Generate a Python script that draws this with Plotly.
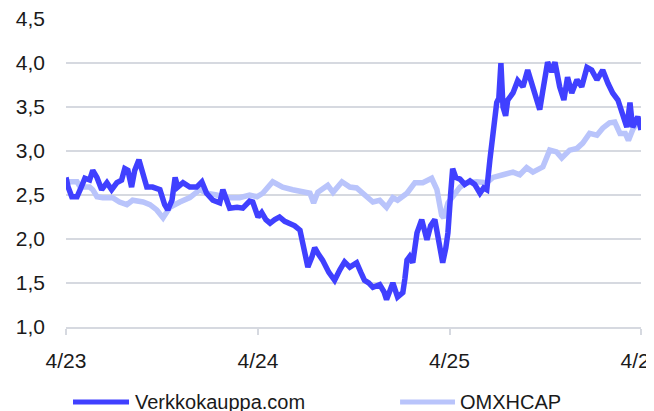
import plotly.graph_objects as go

# Verkkokauppa.com share price (EUR)
verk_dates = [
    "2023-04-01","2023-04-05","2023-04-12","2023-04-22","2023-04-28","2023-05-07","2023-05-16","2023-05-22",
    "2023-05-30","2023-06-08","2023-06-18","2023-06-27","2023-07-07","2023-07-16","2023-07-22","2023-07-28",
    "2023-08-04","2023-08-10","2023-08-18","2023-08-26","2023-09-02","2023-09-13","2023-09-27","2023-10-06",
    "2023-10-12","2023-10-20","2023-10-26","2023-10-31","2023-11-10","2023-11-23","2023-12-06","2023-12-16",
    "2023-12-25","2024-01-06","2024-01-19","2024-01-25","2024-02-07","2024-02-21","2024-03-03","2024-03-16",
    "2024-03-22","2024-04-01","2024-04-08","2024-04-16","2024-04-24","2024-05-03","2024-05-12","2024-05-22",
    "2024-06-01","2024-06-10","2024-06-20","2024-06-25","2024-06-29","2024-07-05","2024-07-13","2024-07-18",
    "2024-07-26","2024-08-02","2024-08-14","2024-08-25","2024-09-04","2024-09-13","2024-09-23","2024-10-06",
    "2024-10-14","2024-10-21","2024-10-29","2024-11-06","2024-11-19","2024-11-27","2024-12-02","2024-12-08",
    "2024-12-14","2024-12-23","2025-01-02","2025-01-06","2025-01-10","2025-01-15","2025-01-21","2025-01-29",
    "2025-02-07","2025-02-17","2025-02-24","2025-03-04","2025-03-13","2025-03-19","2025-03-25","2025-03-29",
    "2025-04-03","2025-04-07","2025-04-13","2025-04-21","2025-04-30","2025-05-10","2025-05-19","2025-05-29",
    "2025-06-05","2025-06-11","2025-06-17","2025-06-23","2025-06-30","2025-07-04","2025-07-08","2025-07-12",
    "2025-07-17","2025-07-21","2025-07-31","2025-08-09","2025-08-19","2025-08-28","2025-09-07","2025-09-14",
    "2025-09-20","2025-09-26","2025-10-05","2025-10-13","2025-10-19","2025-10-28","2025-11-05","2025-11-12",
    "2025-11-20","2025-11-30","2025-12-09","2025-12-19","2025-12-28","2026-01-07","2026-01-18","2026-01-28",
    "2026-02-06","2026-02-16","2026-02-25","2026-03-05","2026-03-11","2026-03-16","2026-03-26","2026-04-01",
]
verk_values = [
    2.70, 2.59, 2.48, 2.48, 2.56, 2.69, 2.67, 2.78,
    2.70, 2.56, 2.64, 2.56, 2.64, 2.67, 2.80, 2.78,
    2.59, 2.78, 2.90, 2.70, 2.59, 2.59, 2.56, 2.39,
    2.33, 2.44, 2.70, 2.59, 2.64, 2.59, 2.59, 2.65,
    2.52, 2.44, 2.41, 2.56, 2.35, 2.36, 2.35, 2.43,
    2.42, 2.25, 2.30, 2.22, 2.18, 2.22, 2.25, 2.20,
    2.18, 2.15, 2.10, 1.95, 1.84, 1.68, 1.80, 1.90,
    1.82, 1.76, 1.62, 1.53, 1.65, 1.74, 1.68, 1.73,
    1.62, 1.53, 1.50, 1.45, 1.48, 1.40, 1.31, 1.40,
    1.50, 1.34, 1.39, 1.55, 1.76, 1.80, 1.73, 2.07,
    2.22, 1.99, 2.15, 2.22, 1.95, 1.73, 1.90, 2.07,
    2.50, 2.80, 2.70, 2.68, 2.62, 2.66, 2.62, 2.52,
    2.58, 2.56, 2.90, 3.20, 3.55, 3.60, 4.00, 3.50,
    3.40, 3.58, 3.66, 3.80, 3.73, 3.92, 3.73, 3.60,
    3.47, 3.69, 4.01, 3.90, 4.01, 3.73, 3.58, 3.84,
    3.66, 3.81, 3.73, 3.95, 3.92, 3.81, 3.92, 3.77,
    3.66, 3.58, 3.39, 3.27, 3.55, 3.27, 3.39, 3.24,
]

# OMXHCAP index, rebased to the share price
omx_dates = [
    "2023-04-01","2023-04-12","2023-04-22","2023-04-28","2023-05-16","2023-05-22","2023-05-30","2023-06-10",
    "2023-06-29","2023-07-12","2023-07-26","2023-08-06","2023-08-26","2023-09-08","2023-09-21","2023-10-03",
    "2023-10-16","2023-11-04","2023-11-23","2023-12-12","2023-12-25","2024-01-13","2024-02-01","2024-02-26",
    "2024-03-16","2024-03-30","2024-04-10","2024-04-29","2024-05-18","2024-06-06","2024-06-25","2024-07-09",
    "2024-07-16","2024-07-24","2024-08-12","2024-08-22","2024-09-08","2024-09-23","2024-10-06","2024-10-21",
    "2024-11-06","2024-11-19","2024-12-02","2024-12-14","2024-12-23","2025-01-10","2025-01-25","2025-02-09",
    "2025-02-26","2025-03-08","2025-03-17","2025-03-21","2025-03-29","2025-04-07","2025-04-21","2025-05-04",
    "2025-05-23","2025-06-11","2025-06-23","2025-07-12","2025-07-31","2025-08-13","2025-08-26","2025-09-07",
    "2025-09-26","2025-10-09","2025-10-22","2025-11-01","2025-11-16","2025-11-30","2025-12-11","2025-12-24",
    "2026-01-07","2026-01-18","2026-01-31","2026-02-10","2026-02-20","2026-03-02","2026-03-08","2026-03-16",
    "2026-03-30",
]
omx_values = [
    2.65, 2.65, 2.65, 2.59, 2.59, 2.56, 2.48, 2.47,
    2.47, 2.42, 2.39, 2.44, 2.42, 2.39, 2.33, 2.24,
    2.36, 2.42, 2.47, 2.56, 2.52, 2.50, 2.47, 2.47,
    2.50, 2.48, 2.52, 2.65, 2.59, 2.56, 2.53, 2.52,
    2.41, 2.53, 2.61, 2.53, 2.65, 2.59, 2.58, 2.50,
    2.42, 2.44, 2.36, 2.47, 2.44, 2.52, 2.64, 2.64,
    2.69, 2.56, 2.27, 2.24, 2.41, 2.48, 2.59, 2.64,
    2.65, 2.64, 2.70, 2.73, 2.76, 2.73, 2.81, 2.76,
    2.82, 3.01, 2.99, 2.92, 3.01, 3.03, 3.09, 3.20,
    3.18, 3.26, 3.32, 3.33, 3.20, 3.20, 3.12, 3.24,
    3.38,
]

tick_dates = ["2023-04-01", "2024-04-01", "2025-04-01", "2026-04-01"]
tick_labels = ["4/23", "4/24", "4/25", "4/26"]
y_ticks = [1.0, 1.5, 2.0, 2.5, 3.0, 3.5, 4.0, 4.5]

series_names = ["Verkkokauppa.com", "OMXHCAP"]
DARK = "#4040ff"
LIGHT = "#b9c4fb"
GRID = "#d6d9e0"
FONT = "Liberation Sans, Arial, sans-serif"

fig = go.Figure()
fig.add_trace(go.Scatter(x=omx_dates, y=omx_values, mode="lines", name=series_names[1],
                         line=dict(color=LIGHT, width=5.5), showlegend=False))
fig.add_trace(go.Scatter(x=verk_dates, y=verk_values, mode="lines", name=series_names[0],
                         line=dict(color=DARK, width=5.5), showlegend=False))

# manual legend below the plot
legend_items = [(series_names[0], DARK, 0.0122, 0.1096, 0.1165),
                (series_names[1], LIGHT, 0.581, 0.6765, 0.6817)]
for name, col, x0, x1, xt in legend_items:
    fig.add_shape(type="line", xref="paper", yref="paper", x0=x0, x1=x1, y0=-0.2435, y1=-0.2435,
                  line=dict(color=col, width=5))
    fig.add_annotation(text=name, xref="paper", yref="paper", x=xt, y=-0.2435,
                       xanchor="left", yanchor="middle", showarrow=False,
                       font=dict(size=20, color="#1a1a1a", family=FONT))

# page body has an 8px default margin, so the figure is 8px smaller than the window
fig.update_layout(
    width=646, height=403,
    margin=dict(l=58, r=13, t=11, b=84, autoexpand=False),
    paper_bgcolor="white", plot_bgcolor="white",
    separators=",.",
    font=dict(family=FONT, size=21, color="#1a1a1a"),
    showlegend=False,
)
fig.update_xaxes(
    type="date", range=["2023-04-01", "2026-04-01"],
    tickvals=tick_dates, ticktext=tick_labels, automargin=False,
    showgrid=False, showline=True, linecolor=GRID, linewidth=1.5,
    ticks="outside", ticklen=6, tickcolor=GRID, tickwidth=1.5,
    ticklabelstandoff=8, ticklabeloverflow="allow", zeroline=False, tickfont=dict(size=21),
)
fig.update_yaxes(
    range=[0.999, 4.501], tickvals=y_ticks, tickformat=".1f", automargin=False,
    showgrid=True, gridcolor=GRID, gridwidth=1.5,
    showline=False, zeroline=False, ticks="", ticklabelstandoff=20,
    ticklabeloverflow="allow", tickfont=dict(size=21),
)

fig.write_html("out.html")
